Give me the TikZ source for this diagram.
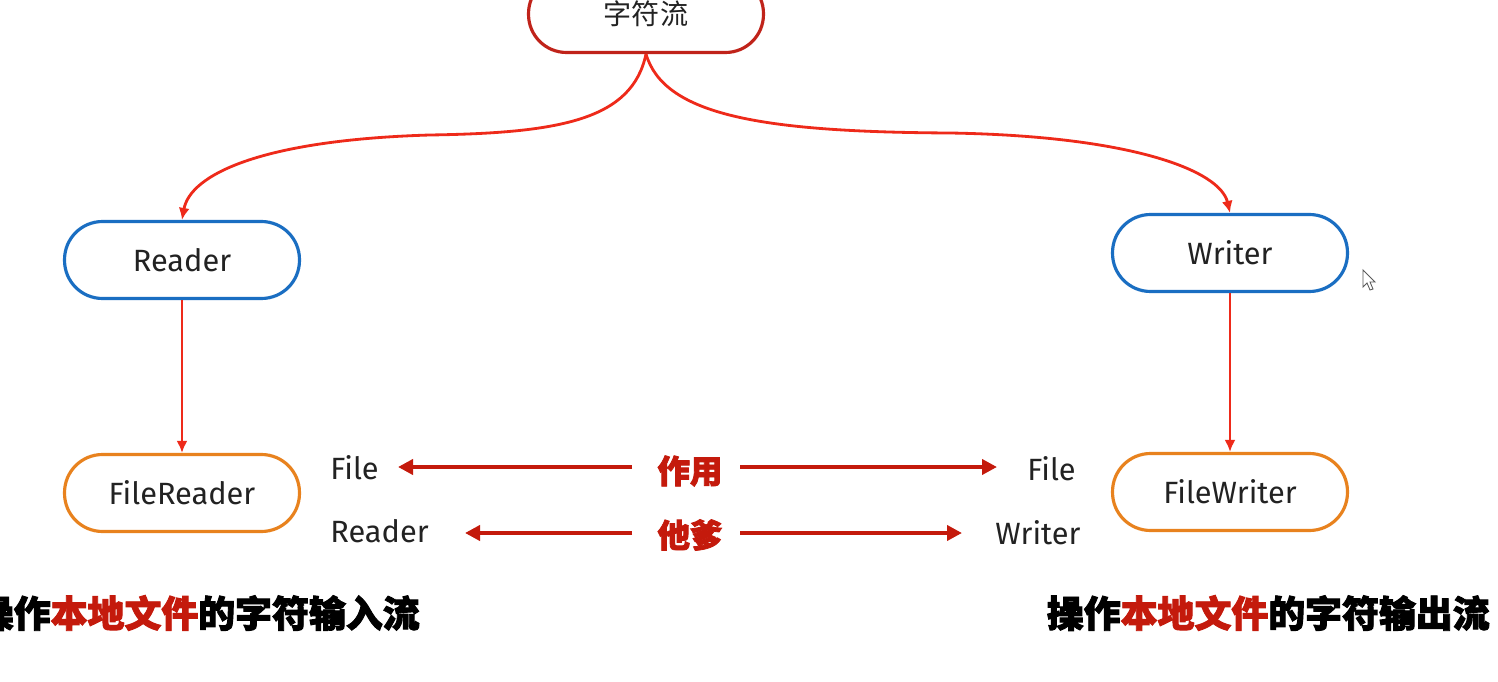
\documentclass[tikz,border=0pt]{standalone}
\usepackage{fontspec}
\setmainfont{Fira Sans}
\newfontfamily\cjk{Noto Sans CJK SC}
\newfontfamily\cjkheavy[BoldFeatures={FakeBold=2.5}]{Noto Sans CJK SC}
\usetikzlibrary{arrows.meta}
\definecolor{topred}{HTML}{C0231A}
\definecolor{boxblue}{HTML}{1A6EC2}
\definecolor{boxorange}{HTML}{E8821E}
\definecolor{linkred}{HTML}{EE2A1A}
\definecolor{darkred}{HTML}{C41A0C}
\definecolor{txt}{HTML}{222222}
\tikzset{
  pill/.style={draw, line width=1.8pt, rounded corners=0.76cm, minimum width=4.7cm, minimum height=1.54cm, fill=white, text=txt, font=\fontsize{17.5}{20}\selectfont, inner sep=0pt},
  link/.style={draw=linkred, line width=1.6pt, -{Latex[length=0.24cm,width=0.22cm]}},
  fat/.style={draw=darkred, line width=2.8pt, -{Triangle[length=0.3cm,width=0.3cm]}},
  lbl/.style={text=txt, font=\fontsize{17.5}{20}\selectfont, inner sep=0pt},
  key/.style={text=darkred, font=\cjkheavy\bfseries\fontsize{18.5}{22}\selectfont, inner sep=0pt},
  caption/.style={text=black, font=\cjkheavy\bfseries\fontsize{21}{24}\selectfont, inner sep=0pt}
}
\begin{document}
\begin{tikzpicture}[x=0.02cm,y=-0.02cm]
\useasboundingbox (0,0) rectangle (1498,682);
\fill[white] (0,0) rectangle (1498,682);
\node[pill, draw=topred, font=\cjk\fontsize{16}{19}\selectfont] (top) at (646,14) {字符流};
\node[pill, draw=boxblue] (reader) at (182,260) {Reader};
\node[pill, draw=boxblue] (writer) at (1230,253) {Writer};
\node[pill, draw=boxorange] (freader) at (182,493) {FileReader};
\node[pill, draw=boxorange] (fwriter) at (1230,492) {FileWriter};
\draw[link] (top.south) .. controls (632,120) and (560,133) .. (430,135)
  .. controls (260,140) and (190,175) .. (reader.north);
\draw[link] (top.south) .. controls (664,115) and (760,132) .. (950,133)
  .. controls (1130,136) and (1220,170) .. (writer.north);
\draw[link] (reader) -- (freader);
\draw[link] (writer) -- (fwriter);
% labels
\node[lbl, anchor=west] (fileL) at (330,468) {File};
\node[lbl, anchor=west] (readerL) at (330,531) {Reader};
\node[lbl, anchor=west] (fileR) at (1027,469) {File};
\node[lbl, anchor=west] (writerR) at (995,533) {Writer};
\node[key] (zy) at (690,471) {作用};
\node[key] (td) at (690,535) {他爹};
\coordinate (a1s) at (632,467); \coordinate (a1e) at (398,467);
\coordinate (a2s) at (740,467); \coordinate (a2e) at (997,467);
\coordinate (a3s) at (632,533); \coordinate (a3e) at (465,533);
\coordinate (a4s) at (740,533); \coordinate (a4e) at (962,533);
\draw[fat] (a1s) -- (a1e);
\draw[fat] (a2s) -- (a2e);
\draw[fat] (a3s) -- (a3e);
\draw[fat] (a4s) -- (a4e);
% captions
\node[caption, anchor=east] (capL) at (420,613) {操作\textcolor{darkred}{本地文件}的字符输入流};
\node[caption, anchor=east] (capR) at (1490,613) {操作\textcolor{darkred}{本地文件}的字符输出流};
% mouse cursor
\draw[gray!70!black, fill=white, line width=0.5pt] (1363,270) -- (1363,287) -- (1367,283) -- (1370,290) -- (1373,289) -- (1370,282) -- (1375,282) -- cycle;
\end{tikzpicture}
\end{document}
